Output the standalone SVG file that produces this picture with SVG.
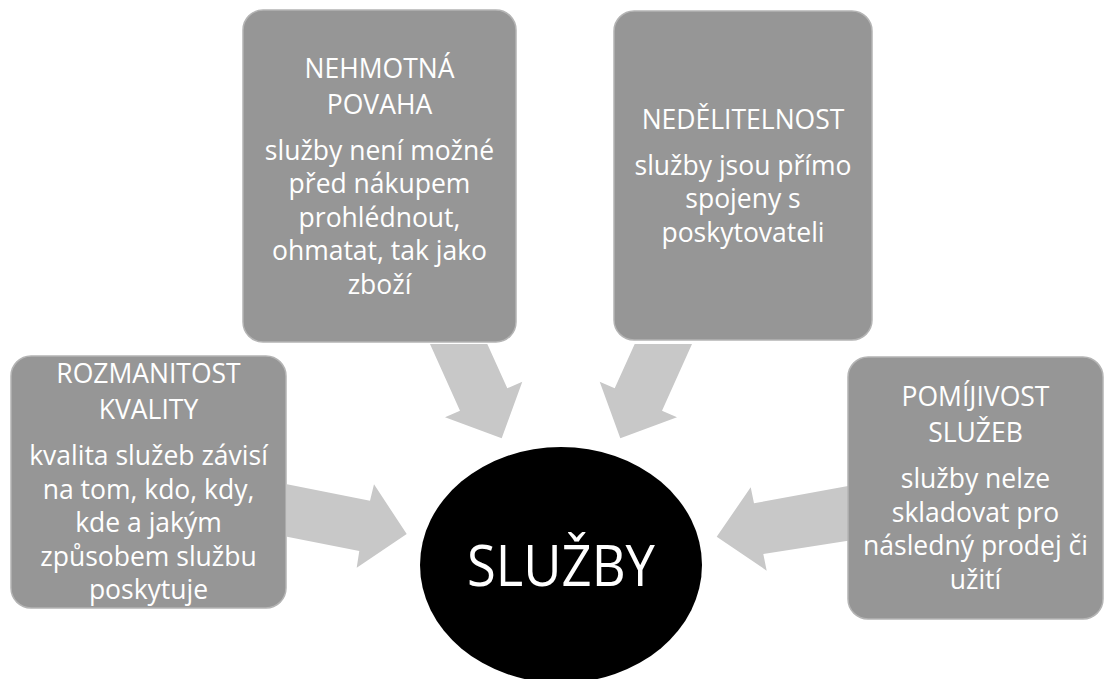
<svg xmlns="http://www.w3.org/2000/svg" width="1105" height="679" viewBox="0 0 1105 679">
<style>
.box{fill:#969696;stroke:#b4b4b4;stroke-width:1.5}
.arrow{fill:#c8c8c8}
.t{font-family:"Open Sans","Noto Sans","Liberation Sans",sans-serif;font-size:26.5px;fill:#ffffff;text-anchor:middle}
.big{font-family:"Open Sans","Noto Sans","Liberation Sans",sans-serif;font-size:57px;fill:#ffffff;text-anchor:middle}
</style>
<rect width="1105" height="679" fill="#ffffff"/>
<g id="connectors">
<polygon class="arrow" points="430,344 487.3,344 507.3,388.3 522.3,381.7 501.7,438.3 445,417.3 460,410.7"/>
<polygon class="arrow" points="692,344 634.7,344 614.7,388.3 599.7,381.7 620.3,438.3 677,417.3 662,410.7"/>
<polygon class="arrow" points="287,484.3 370,500.7 374,484.3 406.7,534 356.7,567.7 359.3,551 287,536.7"/>
<polygon class="arrow" points="848,486 754,503.3 750.7,487.3 716.7,536.7 766.7,570.7 763.3,554 848,540.7"/>
</g>
<g id="node-nehmotna">
<rect class="box" x="243" y="10" width="273" height="332" rx="20"/>
<text class="t" x="379.5" y="77.5">NEHMOTNÁ</text>
<text class="t" x="379.5" y="113.5">POVAHA</text>
<text class="t" x="379.5" y="159.5">služby není možné</text>
<text class="t" x="379.5" y="193">před nákupem</text>
<text class="t" x="379.5" y="226.5">prohlédnout,</text>
<text class="t" x="379.5" y="260">ohmatat, tak jako</text>
<text class="t" x="379.5" y="293.5">zboží</text>
</g>
<g id="node-nedelitelnost">
<rect class="box" x="614" y="11" width="258" height="329" rx="20"/>
<text class="t" x="743" y="128.5">NEDĚLITELNOST</text>
<text class="t" x="743" y="174.5">služby jsou přímo</text>
<text class="t" x="743" y="208">spojeny s</text>
<text class="t" x="743" y="241.5">poskytovateli</text>
</g>
<g id="node-rozmanitost">
<rect class="box" x="11" y="356" width="275" height="252" rx="20"/>
<text class="t" x="148.5" y="383">ROZMANITOST</text>
<text class="t" x="148.5" y="419">KVALITY</text>
<text class="t" x="148.5" y="465">kvalita služeb závisí</text>
<text class="t" x="148.5" y="498.5">na tom, kdo, kdy,</text>
<text class="t" x="148.5" y="532">kde a jakým</text>
<text class="t" x="148.5" y="565.5">způsobem službu</text>
<text class="t" x="148.5" y="599">poskytuje</text>
</g>
<g id="node-pomijivost">
<rect class="box" x="848" y="357" width="255" height="262" rx="20"/>
<text class="t" x="975.5" y="406">POMÍJIVOST</text>
<text class="t" x="975.5" y="442">SLUŽEB</text>
<text class="t" x="975.5" y="488">služby nelze</text>
<text class="t" x="975.5" y="521.5">skladovat pro</text>
<text class="t" x="975.5" y="555">následný prodej či</text>
<text class="t" x="975.5" y="588.5">užití</text>
</g>
<g id="node-sluzby">
<ellipse cx="561" cy="565" rx="141" ry="118" fill="#000000"/>
<text class="big" x="561" y="586" textLength="188" lengthAdjust="spacingAndGlyphs">SLUŽBY</text>
</g>
</svg>
